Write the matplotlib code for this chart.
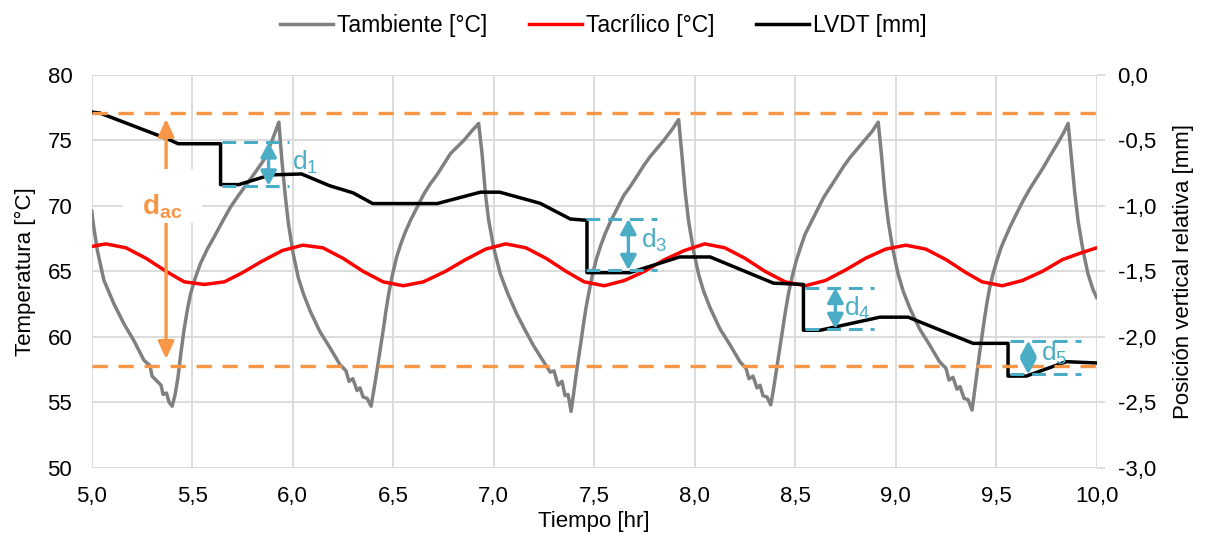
import matplotlib
matplotlib.use('Agg')
import matplotlib.pyplot as plt
from matplotlib.ticker import FuncFormatter, MultipleLocator
from matplotlib.patches import FancyArrowPatch, Rectangle

plt.rcParams['font.family'] = ['Liberation Sans', 'DejaVu Sans']
plt.rcParams['mathtext.fontset'] = 'custom'
plt.rcParams['mathtext.rm'] = 'Liberation Sans'
plt.rcParams['mathtext.it'] = 'Liberation Sans'
plt.rcParams['mathtext.bf'] = 'Liberation Sans:bold'

# ---------------- data ----------------
amb_t = [5.000, 5.010, 5.028, 5.061, 5.111, 5.160, 5.210, 5.260, 5.290, 5.300,
         5.326, 5.345, 5.355, 5.372, 5.385, 5.400,
         5.415, 5.429, 5.444, 5.459, 5.475, 5.492, 5.515, 5.541, 5.575, 5.608,
         5.650, 5.690, 5.730, 5.773, 5.815, 5.856, 5.895, 5.931,
         5.946, 5.962, 5.979, 6.003, 6.028, 6.053, 6.086, 6.135, 6.184, 6.234,
         6.265, 6.280, 6.299, 6.320, 6.335, 6.350, 6.370, 6.390,
         6.402, 6.414, 6.427, 6.439, 6.452, 6.464, 6.480, 6.497, 6.517, 6.538,
         6.560, 6.586, 6.619, 6.652, 6.685, 6.719, 6.752, 6.785, 6.851, 6.895, 6.925,
         6.942, 6.959, 6.975, 7.000, 7.033, 7.070, 7.116, 7.160, 7.199, 7.240,
         7.281, 7.300, 7.320, 7.340, 7.355, 7.370, 7.385,
         7.397, 7.409, 7.422, 7.434, 7.447, 7.459, 7.475, 7.492, 7.512, 7.533,
         7.555, 7.581, 7.614, 7.647, 7.680, 7.714, 7.747, 7.780, 7.846, 7.890, 7.920,
         7.937, 7.953, 7.970, 7.994, 8.019, 8.044, 8.077, 8.126, 8.175, 8.225,
         8.255, 8.270, 8.290, 8.310, 8.325, 8.340, 8.360, 8.378,
         8.390, 8.402, 8.415, 8.427, 8.440, 8.452, 8.468, 8.485, 8.505, 8.526,
         8.548, 8.574, 8.607, 8.640, 8.673, 8.707, 8.740, 8.773, 8.839, 8.883, 8.913,
         8.930, 8.946, 8.963, 8.987, 9.012, 9.037, 9.070, 9.119, 9.168, 9.218,
         9.250, 9.265, 9.285, 9.305, 9.320, 9.340, 9.360, 9.380,
         9.392, 9.404, 9.416, 9.428, 9.440, 9.452, 9.467, 9.484, 9.503, 9.524,
         9.546, 9.572, 9.601, 9.634, 9.667, 9.700, 9.733, 9.767, 9.810, 9.836, 9.858,
         9.875, 9.891, 9.908, 9.932, 9.957, 9.982, 10.000]
amb_T = [69.6, 68.4, 66.6, 64.3, 62.5, 61.0, 59.7, 58.2, 57.8, 57.0,
         56.6, 56.3, 55.6, 55.7, 55.0, 54.7,
         55.6, 56.9, 58.8, 60.5, 62.0, 63.3, 64.5, 65.6, 66.7, 67.6,
         68.8, 69.9, 70.8, 71.7, 72.6, 73.5, 74.9, 76.4,
         73.5, 70.9, 68.6, 66.3, 64.5, 63.3, 62.0, 60.4, 59.2, 57.9,
         57.4, 56.6, 56.8, 55.9, 56.1, 55.4, 55.3, 54.7,
         55.8, 56.9, 58.2, 59.4, 60.7, 62.0, 63.5, 64.8, 66.1, 67.1,
         68.0, 68.9, 69.9, 70.9, 71.7, 72.4, 73.2, 74.0, 75.0, 75.8, 76.3,
         74.0, 70.9, 68.9, 66.8, 64.8, 63.3, 61.7, 60.4, 59.3, 58.3,
         57.3, 57.4, 56.3, 56.6, 55.5, 55.6, 54.3,
         55.6, 57.0, 58.4, 59.6, 61.0, 62.2, 63.5, 64.8, 66.0, 67.0,
         67.9, 68.8, 69.8, 70.8, 71.5, 72.3, 73.1, 73.8, 75.0, 75.9, 76.6,
         73.8, 71.0, 68.8, 66.6, 64.8, 63.5, 62.2, 60.6, 59.4, 58.1,
         57.6, 56.8, 57.0, 56.1, 56.3, 55.5, 55.4, 54.8,
         55.8, 57.0, 58.3, 59.5, 60.8, 62.0, 63.4, 64.6, 65.8, 66.8,
         67.8, 68.6, 69.6, 70.6, 71.4, 72.2, 73.0, 73.7, 74.9, 75.7, 76.4,
         73.8, 71.0, 68.8, 66.6, 64.8, 63.5, 62.2, 60.6, 59.4, 58.1,
         57.6, 56.7, 56.9, 56.0, 56.2, 55.3, 55.2, 54.4,
         55.8, 57.2, 58.6, 59.9, 61.2, 62.4, 63.7, 64.8, 65.8, 66.8,
         67.6, 68.5, 69.4, 70.4, 71.3, 72.1, 72.9, 73.8, 74.9, 75.6, 76.3,
         73.6, 71.0, 68.8, 66.6, 64.8, 63.6, 63.0]

acr_t = [5.00, 5.07, 5.17, 5.27, 5.37, 5.46, 5.56, 5.66, 5.75, 5.85, 5.95,
         6.05, 6.15, 6.25, 6.35, 6.45, 6.55, 6.65, 6.76, 6.86, 6.96,
         7.06, 7.16, 7.26, 7.36, 7.45, 7.55, 7.65, 7.75, 7.85, 7.95,
         8.05, 8.15, 8.25, 8.35, 8.45, 8.55, 8.65, 8.75, 8.85, 8.95,
         9.05, 9.15, 9.25, 9.35, 9.43, 9.53, 9.63, 9.73, 9.83, 9.92, 10.00]
acr_T = [66.9, 67.1, 66.8, 66.0, 65.0, 64.2, 64.0, 64.2, 64.9, 65.8, 66.6,
         67.0, 66.8, 66.0, 65.0, 64.2, 63.9, 64.2, 65.0, 65.9, 66.7,
         67.1, 66.8, 66.0, 65.0, 64.2, 63.9, 64.3, 65.0, 65.9, 66.6,
         67.1, 66.8, 66.0, 65.0, 64.2, 63.9, 64.3, 65.1, 66.0, 66.7,
         67.0, 66.7, 65.9, 64.9, 64.2, 63.9, 64.3, 65.0, 65.9, 66.4, 66.8]

lvdt_t = [5.000, 5.040, 5.380, 5.430, 5.641, 5.641, 5.732, 5.889, 6.044,
          6.184, 6.300, 6.398, 6.719, 6.934, 7.030, 7.231, 7.381, 7.464,
          7.464, 7.677, 7.925, 8.077, 8.392, 8.541, 8.541, 8.624, 8.921,
          9.062, 9.385, 9.559, 9.559, 9.650, 9.849, 10.000]
lvdt_mm = [-0.283, -0.290, -0.490, -0.525, -0.525, -0.837, -0.837, -0.763, -0.756,
           -0.846, -0.900, -0.982, -0.982, -0.895, -0.895, -0.980, -1.100, -1.110,
           -1.510, -1.510, -1.390, -1.390, -1.590, -1.600, -1.950, -1.950, -1.850,
           -1.850, -2.050, -2.050, -2.300, -2.300, -2.190, -2.200]

# annotation levels (°C, left axis)
dac_levels = [77.1, 57.8]
d_labels = ['1', '3', '4', '5']
d_x0 = [5.65, 7.46, 8.55, 9.57]
d_x1 = [5.98, 7.81, 8.89, 9.92]
d_top = [74.86, 69.0, 63.74, 59.7]
d_bot = [71.55, 65.1, 60.6, 57.13]
d_arrow_x = [5.88, 7.67, 8.70, 9.66]
d_text_x = [6.06, 7.80, 8.81, 9.79]
d_text_y = [73.3, 67.4, 62.2, 58.7]

x_ticks = [5.0, 5.5, 6.0, 6.5, 7.0, 7.5, 8.0, 8.5, 9.0, 9.5, 10.0]

# ---------------- figure ----------------
GRID = '#D9D9D9'
ORANGE = '#F79646'
BLUE = '#4BACC6'

fig = plt.figure(figsize=(12.07, 5.46), dpi=100)
ax = fig.add_axes([0.076, 0.1434, 0.8326, 0.7192])
ax2 = ax.twinx()

l1, = ax.plot(amb_t, amb_T, color='#808080', lw=2.5, label='Tambiente [°C]', zorder=3)
l2, = ax.plot(acr_t, acr_T, color='#FF0000', lw=2.5, label='Tacrílico [°C]', zorder=4)
l3, = ax2.plot(lvdt_t, lvdt_mm, color='#000000', lw=2.5, label='LVDT [mm]', zorder=3)

ax.set_xlim(5, 10)
ax.set_ylim(50, 80)
ax2.set_ylim(-3, 0)
ax.set_xticks(x_ticks)
ax.yaxis.set_major_locator(MultipleLocator(5))
ax2.yaxis.set_major_locator(MultipleLocator(0.5))
ax.xaxis.set_major_formatter(FuncFormatter(lambda v, p: f'{v:.1f}'.replace('.', ',')))
ax2.yaxis.set_major_formatter(FuncFormatter(lambda v, p: f'{v:.1f}'.replace('.', ',')))
ax.yaxis.set_major_formatter(FuncFormatter(lambda v, p: f'{v:.0f}'))

ax.grid(True, color=GRID, lw=1.3)
ax.set_axisbelow(True)
for s in ax.spines.values():
    s.set_visible(False)
for s in ax2.spines.values():
    s.set_visible(False)
ax.tick_params(axis='x', length=0, labelsize=16, pad=13)
ax.tick_params(axis='y', length=0, labelsize=16, pad=14)
ax2.tick_params(axis='y', length=6, width=1.3, color=GRID, labelsize=16, pad=9)

ax.set_xlabel('Tiempo [hr]', fontsize=16, labelpad=3)
ax.set_ylabel('Temperatura [°C]', fontsize=16, labelpad=8)
ax2.set_ylabel('Posición vertical relativa [mm]', fontsize=16, labelpad=12)

# orange dashed reference lines
for lev in dac_levels:
    ax2.plot([5, 10], [lev, lev], transform=ax.transData, color=ORANGE, lw=2.4,
             dashes=(4.6, 3.2), zorder=6)

# d_ac arrow
arr = FancyArrowPatch((5.37, 58.3), (5.37, 76.65), transform=ax.transData,
                      arrowstyle='<|-|>,head_length=0.65,head_width=0.3',
                      mutation_scale=16, color=ORANGE, lw=2.4, zorder=7,
                      shrinkA=0, shrinkB=0)
ax2.add_patch(arr)
ax2.add_patch(Rectangle((5.155, 68.7), 0.395, 4.1, transform=ax.transData,
                        facecolor='white', edgecolor='none', zorder=8))
ax2.text(5.35, 69.9, r'$\mathbf{d_{ac}}$', transform=ax.transData, color=ORANGE,
         fontsize=20, ha='center', va='center', zorder=9)

# blue d_i annotations
for lab, x0, x1, yt, yb, xa, xt, yt2 in zip(d_labels, d_x0, d_x1, d_top, d_bot,
                                             d_arrow_x, d_text_x, d_text_y):
    for lev in (yt, yb):
        ax2.plot([x0, x1], [lev, lev], transform=ax.transData, color=BLUE, lw=2.2,
                 dashes=(4.5, 2.6), zorder=6)
    a = FancyArrowPatch((xa, yb), (xa, yt), transform=ax.transData,
                        arrowstyle='<|-|>,head_length=0.55,head_width=0.3',
                        mutation_scale=16, color=BLUE, lw=2.4, zorder=7,
                        shrinkA=0, shrinkB=0)
    ax2.add_patch(a)
    ax2.text(xt, yt2, 'd$_{' + lab + '}$', transform=ax.transData, color=BLUE,
             fontsize=19, ha='center', va='center', zorder=9)

fig.legend(handles=[l1, l2, l3], loc='center', bbox_to_anchor=(0.5, 0.953), ncol=3,
           frameon=False, fontsize=16.5, handlelength=2.3, handletextpad=0.2,
           columnspacing=1.8)

fig.savefig('out.png', dpi=100)
